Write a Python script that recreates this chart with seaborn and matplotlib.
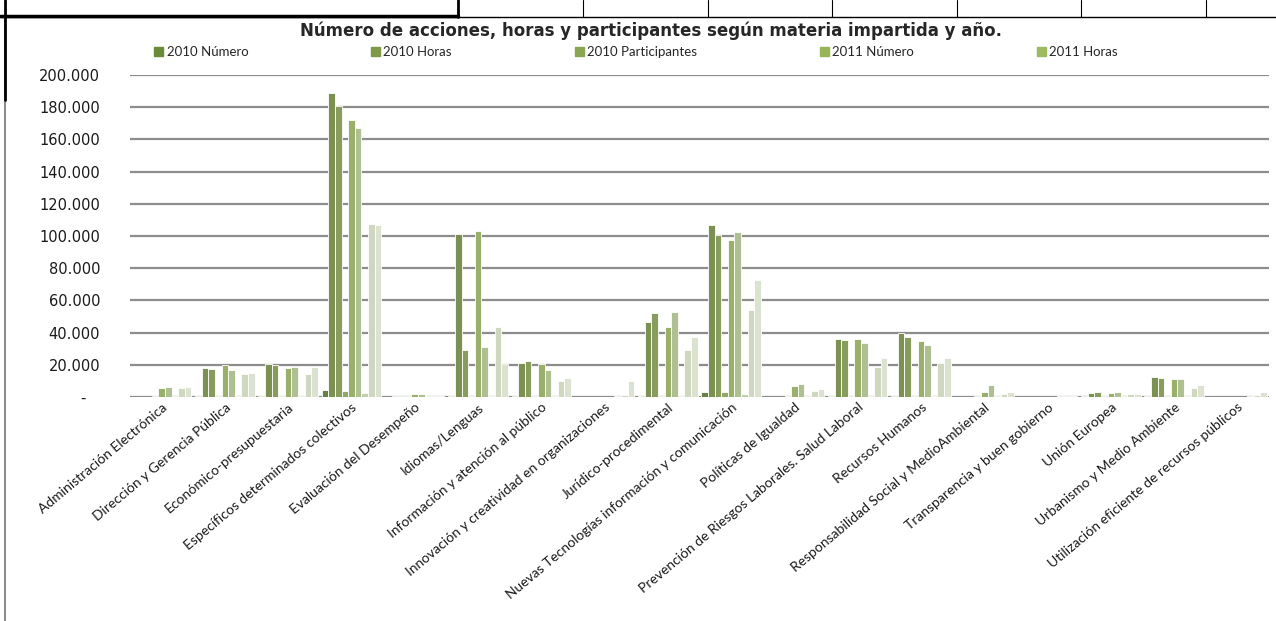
import pandas as pd
import seaborn as sns
import matplotlib.pyplot as plt
from matplotlib.lines import Line2D
from matplotlib.ticker import FuncFormatter

materias = [
    'Administración Electrónica', 'Dirección y Gerencia Pública', 'Económico-presupuestaria',
    'Específicos determinados colectivos', 'Evaluación del Desempeño', 'Idiomas/Lenguas',
    'Información y atención al público', 'Innovación y creatividad en organizaciones',
    'Jurídico-procedimental', 'Nuevas Tecnologías información y comunicación',
    'Políticas de Igualdad', 'Prevención de Riesgos Laborales. Salud Laboral',
    'Recursos Humanos', 'Responsabilidad Social y MedioAmbiental',
    'Transparencia y buen gobierno', 'Unión Europea', 'Urbanismo y Medio Ambiente',
    'Utilización eficiente de recursos públicos',
]

# valores en miles
num_2010 = [0, 0.6, 0.8, 4.3, 0.3, 0.6, 0.7, 0, 0.6, 2.9, 0, 0.6, 0.6, 0, 0, 0.8, 0.6, 0]
horas_2010 = [0, 18.0, 20.8, 189, 0.4, 101, 20.9, 0, 46.6, 106.6, 0, 36.2, 40.0, 0, 0, 2.2, 12.4, 0]
part_2010 = [0, 17.5, 20.0, 181, 0.6, 29.5, 22.3, 0, 52.0, 100.4, 0, 35.4, 37.3, 0, 0, 2.8, 11.8, 0]
num_2011 = [0.6, 0.8, 0.8, 4.0, 0.8, 0.6, 0.7, 0, 0.6, 2.8, 0.5, 0.6, 0.6, 0.5, 0, 0.8, 0.6, 0]
horas_2011 = [5.8, 20.0, 18.2, 172, 2.0, 103, 20.6, 0, 43.7, 97.5, 6.8, 36.2, 34.6, 3.4, 0, 2.2, 11.1, 0]
part_2011 = [6.5, 16.8, 18.8, 167, 2.0, 31.0, 16.8, 0, 52.6, 102.5, 8.0, 33.7, 32.5, 7.2, 0, 2.8, 11.1, 0]
num_2012 = [0.5, 0.6, 0.7, 2.5, 0.8, 0.5, 0.5, 0.6, 0.6, 1.8, 0.5, 0.5, 0.5, 0.5, 0.8, 0.5, 0.5, 0.5]
horas_2012 = [5.5, 14.2, 14.3, 107.5, 0.8, 43.3, 10.0, 1.5, 29.0, 54.0, 3.9, 18.4, 21.3, 1.8, 0.8, 1.6, 5.5, 1.2]
part_2012 = [6.3, 14.8, 18.8, 107.0, 0.5, 20.3, 12.0, 9.9, 37.3, 72.7, 4.7, 24.4, 24.4, 3.0, 0.8, 1.6, 7.2, 2.8]

series = ['2010 Número', '2010 Horas', '2010 Participantes',
          '2011 Número', '2011 Horas', '2011 Participantes',
          '2012 Número', '2012 Horas', '2012 Participantes']
valores = [num_2010, horas_2010, part_2010, num_2011, horas_2011, part_2011,
           num_2012, horas_2012, part_2012]
colores = ['#6B8A3A', '#7F9A48', '#8BA653', '#97B456', '#9DBB5E',
           '#B0C88A', '#C4D4A6', '#D0DCBA', '#DCE5CD']

rows = []
for s, vals in zip(series, valores):
    for m, v in zip(materias, vals):
        rows.append({'Materia': m, 'Serie': s, 'Valor': v * 1000})
df = pd.DataFrame(rows)

sns.set_style('white')
plt.rcParams['font.family'] = ['Lato', 'DejaVu Sans']

fig = plt.figure(figsize=(12.76, 6.21), dpi=100)
W, H = 1276, 621
ax = fig.add_axes([130 / W, 1 - 397 / H, 1139 / W, 322 / H])

sns.barplot(data=df, x='Materia', y='Valor', hue='Serie', palette=colores,
            width=0.94, edgecolor='white', linewidth=0.6, legend=False, ax=ax)

ax.set_ylim(0, 200000)
ax.set_yticks(range(0, 200001, 20000))
ax.yaxis.set_major_formatter(FuncFormatter(
    lambda v, p: '-   ' if v == 0 else f'{v:,.0f}'.replace(',', '.')))
ax.set_axisbelow(True)
ax.yaxis.grid(True, color='#8C8C8C', linewidth=1.6)
for sp in ax.spines.values():
    sp.set_visible(False)
ax.set_xlabel('')
ax.set_ylabel('')
ax.tick_params(axis='y', length=0, pad=21.5, labelsize=10.5)
plt.setp(ax.get_yticklabels(), family='DejaVu Sans', color='#1A1A1A')
ax.tick_params(axis='x', length=0, pad=3, labelsize=10)
plt.setp(ax.get_xticklabels(), rotation=40, ha='right', rotation_mode='anchor',
         color='#1A1A1A')

fig.text(651 / W, 1 - 31 / H,
         'Número de acciones, horas y participantes según materia impartida y año.',
         ha='center', va='center', fontsize=12, fontweight='bold',
         family='DejaVu Sans')

handles = [plt.Rectangle((0, 0), 1, 1, color=c) for c in colores[:5]]
fig.legend(handles, series[:5], loc='center', ncol=5, frameon=False,
           bbox_to_anchor=(636 / W, 1 - 52 / H), fontsize=9.5,
           handlelength=0.7, handleheight=0.7, handletextpad=0.25, columnspacing=9.3)

# bordes de la hoja y del gráfico
def px_line(x0, y0, x1, y1, color, lw):
    fig.add_artist(Line2D([x0 / W, x1 / W], [1 - y0 / H, 1 - y1 / H],
                          transform=fig.transFigure, color=color, linewidth=lw))

px_line(0, 17, W, 17, 'black', 1)
px_line(0, 16, 458, 16, 'black', 2.5)
for x in [458, 583, 708, 832, 957, 1081, 1206]:
    px_line(x, 0, x, 17, 'black', 2 if x == 458 else 0.8)
px_line(5, 17, 5, H, '#8C8C8C', 1.5)
px_line(5, 0, 5, 100, 'black', 2)

fig.savefig('out.png', dpi=100)
